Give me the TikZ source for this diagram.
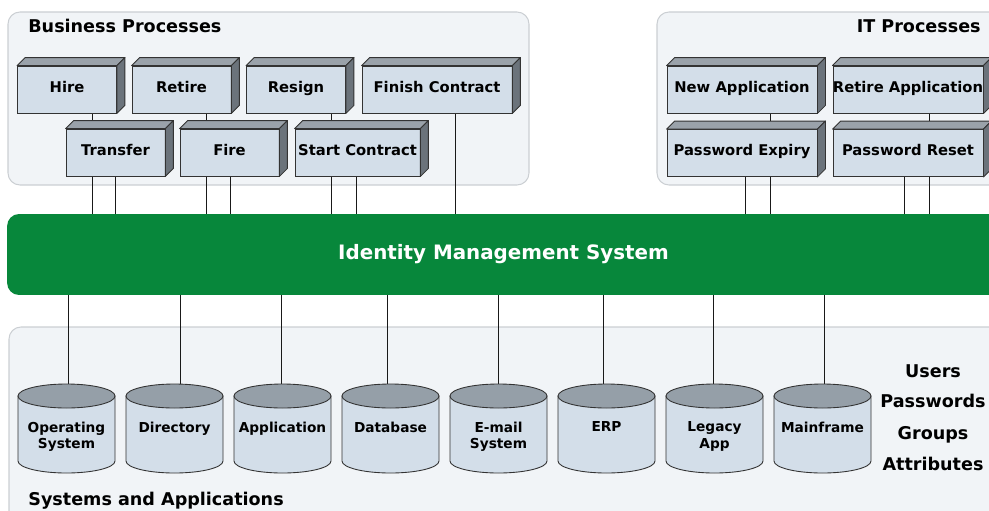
\documentclass[tikz,border=0pt]{standalone}
\usepackage{fontspec}
\setmainfont{DejaVu Sans}
\usetikzlibrary{backgrounds}

\definecolor{panelfill}{HTML}{F1F4F7}
\definecolor{panelline}{HTML}{CBCFD3}
\definecolor{boxfront}{HTML}{D3DEE9}
\definecolor{boxtop}{HTML}{9AA2AA}
\definecolor{boxside}{HTML}{6B737B}
\definecolor{dbtopfill}{HTML}{959FA8}
\definecolor{imsgreen}{HTML}{07873B}

\begin{document}
\begin{tikzpicture}[x=0.02cm,y=-0.02cm,
    panel/.style={fill=panelfill,draw=panelline,line width=0.6pt,rounded corners=0.24cm},
    heading/.style={inner sep=0pt,font=\fontsize{10}{12}\selectfont\bfseries},
    procbox/.style={draw=black!80,fill=boxfront,line width=0.5pt,minimum width=1.98cm,minimum height=0.94cm,
        inner sep=0pt,text height=7pt,text depth=4pt,font=\fontsize{8.4}{10}\selectfont\bfseries},
    boxface/.style={draw=black!80,line width=0.5pt,line join=round},
    imsbar/.style={fill=imsgreen,rounded corners=0.24cm,minimum width=19.86cm,minimum height=1.62cm,
        text=white,font=\fontsize{11.3}{13}\selectfont\bfseries},
    dbtext/.style={anchor=north,inner sep=0pt,align=center,font=\fontsize{7.8}{9.4}\selectfont\bfseries},
    dbshape/.style={draw=black!80,line width=0.5pt},
    attr/.style={anchor=base,inner sep=0pt,font=\fontsize{10}{12}\selectfont\bfseries},
    conn/.style={draw=black!90,line width=0.5pt}]
\useasboundingbox (0,0) rectangle (989,510);

% panels
\begin{scope}[on background layer]
    \filldraw[panel] (8,12) rectangle (529,185);
    \filldraw[panel] (657,12) rectangle (1003,185);
    \filldraw[panel] (9,327) rectangle (1003,525);
\end{scope}

\node[heading,anchor=base west] (bp) at (28,33) {Business Processes};
\node[heading,anchor=base east] (itp) at (981,33) {IT Processes};
\node[heading,anchor=base west] (sa) at (28,505) {Systems and Applications};

% identity management bar
\node[imsbar] (ims) at (503.5,254.5) {Identity Management System};

% business processes
\node[procbox] (hire) at (67,89.5) {Hire};
\node[procbox] (retire) at (181.5,89.5) {Retire};
\node[procbox] (resign) at (296,89.5) {Resign};
\node[procbox,minimum width=3cm] (finish) at (437,89.5) {Finish Contract};
\node[procbox] (transfer) at (115.5,152.5) {Transfer};
\node[procbox] (fire) at (229.5,152.5) {Fire};
\node[procbox,minimum width=2.5cm] (start) at (357.5,152.5) {Start Contract};

% it processes
\node[procbox,minimum width=3cm] (newapp) at (742,89.5) {New Application};
\node[procbox,minimum width=3cm] (retapp) at (908,89.5) {Retire Application};
\node[procbox,minimum width=3cm] (pwexpiry) at (742,153) {Password Expiry};
\node[procbox,minimum width=3cm] (pwreset) at (908,153) {Password Reset};

% top and side faces
\foreach \b in {hire,retire,resign,finish,transfer,fire,start,newapp,retapp,pwexpiry,pwreset}{
    \filldraw[boxface,fill=boxtop] (\b.north west) -- ++(8,-8) -- ([shift={(8,-8)}]\b.north east) -- (\b.north east) -- cycle;
    \filldraw[boxface,fill=boxside] (\b.north east) -- ++(8,-8) -- ([shift={(8,-8)}]\b.south east) -- (\b.south east) -- cycle;
}

% systems
\foreach \n/\t/\i in {os/{Operating\\System}/0,dir/Directory/1,app/Application/2,db/Database/3,
        mail/{E-mail\\System}/4,erp/ERP/5,legacy/{Legacy\\App}/6,mainframe/Mainframe/7}
    \node[dbtext] (\n) at (66.5+108*\i,421.5) {\t};

\node[attr] (users) at (933,377) {Users};
\node[attr] (passwords) at (933,407.5) {Passwords};
\node[attr] (groups) at (933,439) {Groups};
\node[attr] (attributes) at (933,470) {Attributes};

\begin{scope}[on background layer]
    % processes to the bar
    \foreach \up/\low/\du/\dl in {hire/transfer/-23/0,retire/fire/-23/1,resign/start/-26/-1,
            newapp/pwexpiry/28/3,retapp/pwreset/21/-4}{
        \path ([xshift=\du*0.02cm]\low.south) coordinate (p) ([xshift=\dl*0.02cm]\low.south) coordinate (q);
        \draw[conn] (p |- \up.south) -- (p |- ims.north);
        \draw[conn] (q) -- (q |- ims.north);
    }
    \path ([xshift=0.36cm]finish.south) coordinate (p);
    \draw[conn] (p) -- (p |- ims.north);
    % bar to the systems
    \foreach \n/\d in {os/1.5,dir/5.5,app/-1.5,db/-3.5,mail/-0.5,erp/-3.5,legacy/-1.5,mainframe/1.5}{
        \path ([xshift=\d*0.02cm]\n.north) coordinate (q);
        \draw[conn] (q |- ims.south) -- (q);
    }
    % cylinders
    \foreach \i in {0,...,7}{
        \filldraw[dbshape,fill=boxfront] (18+108*\i,396) -- (18+108*\i,461)
            arc[start angle=180,end angle=0,x radius=48.5,y radius=12] -- (115+108*\i,396) -- cycle;
        \filldraw[dbshape,fill=dbtopfill] (66.5+108*\i,396) ellipse [x radius=48.5,y radius=12];
    }
\end{scope}
\end{tikzpicture}
\end{document}
